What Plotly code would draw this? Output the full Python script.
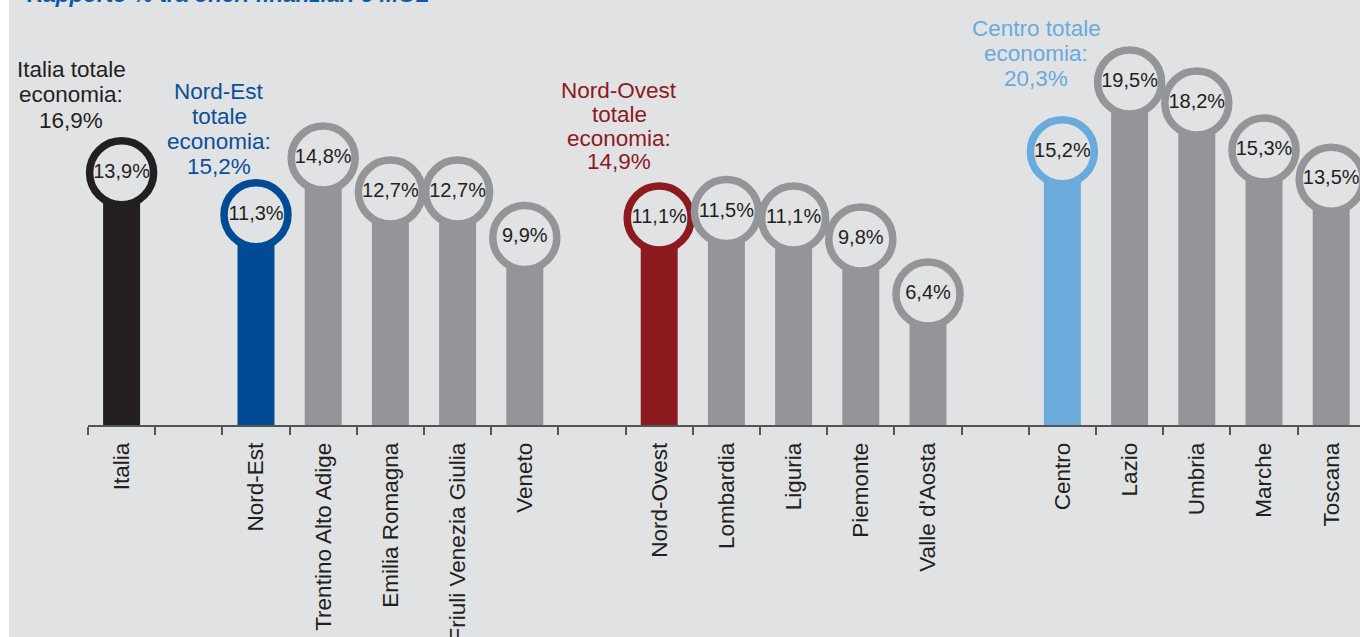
import plotly.graph_objects as go

# ---------------- data ----------------
categories = ["Italia", " ", "Nord-Est", "Trentino Alto Adige", "Emilia Romagna",
              "Friuli Venezia Giulia", "Veneto", "  ", "Nord-Ovest", "Lombardia",
              "Liguria", "Piemonte", "Valle d'Aosta", "   ", "Centro", "Lazio",
              "Umbria", "Marche", "Toscana"]
values = [13.9, None, 11.3, 14.8, 12.7, 12.7, 9.9, None, 11.1, 11.5,
          11.1, 9.8, 6.4, None, 15.2, 19.5, 18.2, 15.3, 13.5]
groups = ["Italia", None, "Nord-Est", "reg", "reg", "reg", "reg", None, "Nord-Ovest", "reg",
          "reg", "reg", "reg", None, "Centro", "reg", "reg", "reg", "reg"]

total_regions = ["Italia", "Nord-Est", "Nord-Ovest", "Centro"]
total_values = [16.9, 15.2, 14.9, 20.3]
total_lines = [["Italia totale", "economia:"],
               ["Nord-Est", "totale", "economia:"],
               ["Nord-Ovest", "totale", "economia:"],
               ["Centro totale", "economia:"]]

title_text = "Rapporto % tra oneri finanziari e MOL"

# ---------------- style ----------------
BG = "#e1e2e4"
COLORS = {"Italia": "#231f20", "Nord-Est": "#004b93", "Nord-Ovest": "#8c1a1f",
          "Centro": "#6aabdc", "reg": "#939598"}
TEXT_COLORS = {"Italia": "#231f20", "Nord-Est": "#0b4f98", "Nord-Ovest": "#8c1a1f",
               "Centro": "#6aabdc"}
FONT = "Liberation Sans, Arial, Helvetica, sans-serif"
Y_MIN, Y_MAX = -1.69, 24.57
W, H = 1360, 637
ML, MB = 88, 212
PW, PH = W - ML, H - MB
SLOT = 67.2
X_MAX = -0.5 + PW / SLOT


def fmt(v):
    return f"{v:.1f}%".replace(".", ",")


bar_x = [c for c, v in zip(categories, values) if v is not None]
bar_y = [v for v in values if v is not None]
bar_c = [COLORS[g] for g, v in zip(groups, values) if v is not None]

fig = go.Figure()
fig.add_trace(go.Bar(
    x=bar_x, y=[v - Y_MIN for v in bar_y], base=Y_MIN,
    marker=dict(color=bar_c, line=dict(width=0)), width=0.55,
    hoverinfo="skip", showlegend=False,
))
fig.add_trace(go.Scatter(
    x=bar_x, y=bar_y, mode="markers+text",
    text=[fmt(v) for v in bar_y], textposition="middle center",
    textfont=dict(family=FONT, size=20, color="#231f20"),
    marker=dict(size=64, color=BG, line=dict(width=7.5, color=bar_c)),
    cliponaxis=False, hoverinfo="skip", showlegend=False,
))

# total annotations (pixel placement of block: centre x, first-line centre y, line step)
ann_pos = {"Italia": (71, 70, 25), "Nord-Est": (219, 91, 25),
           "Nord-Ovest": (619, 90, 24), "Centro": (1036, 28, 25)}
for reg, tv, lines in zip(total_regions, total_values, total_lines):
    px, py0, step = ann_pos[reg]
    idx = categories.index(reg)
    cx = ML + (idx + 0.5) * SLOT
    for i, line in enumerate(lines + [fmt(tv)]):
        py = py0 + i * step
        fig.add_annotation(
            x=reg, xref="x", xshift=px - cx, y=1 - py / PH, yref="paper",
            text=line, showarrow=False, align="center",
            xanchor="center", yanchor="middle",
            font=dict(family=FONT, size=22.5, color=TEXT_COLORS[reg]),
        )

# cropped title
fig.add_annotation(
    x=(25 - ML) / PW, xref="paper", xanchor="left",
    y=1, yref="paper", yanchor="bottom", yshift=-9,
    text=f"<b><i>{title_text}</i></b>", showarrow=False,
    font=dict(family=FONT, size=22.5, color="#0b5aa6"),
)

# white strip on the left
fig.add_shape(type="rect", xref="paper", yref="paper",
              x0=-ML / PW - 0.01, x1=-(ML - 9) / PW, y0=-0.7, y1=1.2,
              fillcolor="white", line=dict(width=0), layer="below")

fig.update_layout(
    width=W, height=H,
    margin=dict(l=ML, r=0, t=0, b=MB, pad=0, autoexpand=False),
    paper_bgcolor=BG, plot_bgcolor=BG,
    font=dict(family=FONT, color="#231f20"),
    xaxis=dict(
        type="category", categoryorder="array", categoryarray=categories,
        range=[-0.5, X_MAX], showgrid=False, zeroline=False, automargin=False,
        showline=True, linecolor="#555555", linewidth=1.5,
        ticks="outside", tickson="boundaries", ticklen=8, tickwidth=1.5, tickcolor="#555555",
        ticklabelstandoff=7,
        tickangle=-90, tickfont=dict(family=FONT, size=22.5, color="#231f20"),
    ),
    yaxis=dict(range=[Y_MIN, Y_MAX], visible=False, showgrid=False, zeroline=False,
               automargin=False),
)

fig.write_html("out.html", config={"displayModeBar": False},
               post_script="document.body.style.margin='0px';")
